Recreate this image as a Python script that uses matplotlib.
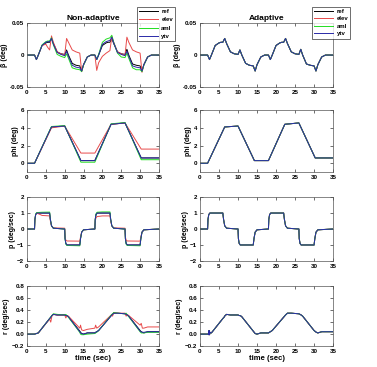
import matplotlib
matplotlib.use("Agg")
import matplotlib.pyplot as plt

# ---- data (time knots in seconds) ----
t_beta = [0, 2, 2.5, 3, 4, 5, 5.5, 6, 6.5, 7, 8, 9, 10, 10.5, 11, 12, 13, 14, 14.5, 15, 16, 17,
          18, 18.5, 19, 20, 21, 21.5, 22, 22.5, 23, 24, 25, 26, 26.5, 27, 28, 29, 30, 30.5, 31, 32, 33, 35]
beta_ref = [0, 0, -0.007, 0.0, 0.015, 0.019, 0.020, 0.020, 0.026, 0.018, 0.005, 0.002, 0.001, 0.008, 0.0,
            -0.013, -0.016, -0.017, -0.025, -0.015, -0.003, 0,
            0, -0.007, 0.0, 0.015, 0.019, 0.020, 0.020, 0.026, 0.018, 0.005, 0.002, 0.001, 0.009, 0.0,
            -0.014, -0.016, -0.017, -0.025, -0.015, -0.003, 0, 0]
beta_elev = [0, 0, -0.007, 0.0, 0.015, 0.017, 0.012, 0.008, 0.030, 0.020, 0.005, 0.002, 0.0, 0.026, 0.020,
             0.008, 0.005, 0.003, -0.026, -0.015, -0.003, 0,
             0, -0.024, -0.012, -0.002, 0.003, 0.005, 0.007, 0.029, 0.020, 0.005, 0.002, 0.0, 0.028, 0.020,
             0.008, 0.005, 0.003, -0.027, -0.015, -0.003, 0, 0]
beta_aml = [0, 0, -0.007, 0.0, 0.016, 0.021, 0.022, 0.022, 0.027, 0.016, 0.001, -0.002, -0.004, 0.002, -0.005,
            -0.020, -0.022, -0.023, -0.026, -0.016, -0.003, 0,
            0, -0.007, 0.001, 0.020, 0.025, 0.026, 0.027, 0.031, 0.020, 0.003, -0.003, -0.004, 0.003, -0.005,
            -0.020, -0.023, -0.023, -0.026, -0.016, -0.003, 0, 0]
beta_ytv = [0, 0, -0.007, 0.0, 0.015, 0.020, 0.021, 0.021, 0.026, 0.017, 0.004, 0.001, -0.001, 0.006, -0.002,
            -0.016, -0.019, -0.020, -0.025, -0.015, -0.003, 0,
            0, -0.007, 0.0, 0.017, 0.021, 0.022, 0.023, 0.028, 0.019, 0.004, 0.001, -0.001, 0.006, -0.002,
            -0.017, -0.019, -0.020, -0.025, -0.015, -0.003, 0, 0]

t_phi = [0, 2, 6.5, 10, 14.3, 18, 22.3, 26, 30.3, 35]
phi_ref = [0, 0, 4.1, 4.2, 0.3, 0.3, 4.4, 4.55, 0.6, 0.6]
phi_elev = [0, 0, 4.0, 4.2, 1.15, 1.15, 4.4, 4.55, 1.6, 1.6]
phi_aml = [0, 0, 4.15, 4.25, 0.12, 0.12, 4.45, 4.6, 0.4, 0.4]
phi_ytv = [0, 0, 4.1, 4.2, 0.3, 0.3, 4.4, 4.55, 0.6, 0.6]

t_p = [0, 2.0, 2.1, 2.3, 2.6, 4.0, 6.0, 6.2, 6.5, 7.0, 10.0, 10.1, 10.3, 10.6, 14.0, 14.2, 14.5, 15.0,
       18.0, 18.1, 18.3, 18.6, 20.0, 22.0, 22.2, 22.5, 23.0, 26.0, 26.1, 26.3, 26.6, 30.0, 30.2, 30.5, 31.0, 35]
p_ref = [0, 0, 0.6, 0.9, 1.0, 1.0, 1.0, 0.6, 0.2, 0.05, 0.0, -0.6, -0.9, -1.0, -1.0, -0.6, -0.2, -0.05,
         0, 0.6, 0.9, 1.0, 1.0, 1.0, 0.6, 0.2, 0.05, 0.0, -0.6, -0.9, -1.0, -1.0, -0.6, -0.2, -0.05, 0]
p_elev = [0, 0, 0.6, 0.9, 1.0, 0.85, 0.82, 0.5, 0.2, 0.07, 0.05, -0.5, -0.7, -0.75, -0.76, -0.5, -0.2, -0.05,
          0, 0.5, 0.7, 0.78, 0.82, 0.82, 0.5, 0.2, 0.07, 0.05, -0.5, -0.7, -0.75, -0.76, -0.5, -0.2, -0.05, 0]
p_aml = [0, 0, 0.6, 0.95, 1.03, 1.05, 1.06, 0.6, 0.2, 0.05, 0.0, -0.6, -0.95, -1.03, -1.05, -0.6, -0.2, -0.05,
         0, 0.6, 0.95, 1.05, 1.07, 1.07, 0.6, 0.2, 0.05, 0.0, -0.6, -0.95, -1.03, -1.05, -0.6, -0.2, -0.05, 0]
p_ytv = [0, 0, 0.6, 0.9, 1.0, 1.0, 1.0, 0.6, 0.2, 0.05, 0.0, -0.6, -0.9, -1.0, -1.0, -0.6, -0.2, -0.05,
         0, 0.6, 0.9, 1.0, 1.0, 1.0, 0.6, 0.2, 0.05, 0.0, -0.6, -0.9, -1.0, -1.0, -0.6, -0.2, -0.05, 0]

t_r = [0, 2, 3, 6, 6.3, 6.6, 7, 8, 10, 10.3, 10.6, 11, 14, 14.2, 14.5, 15, 16, 18, 18.2, 18.5, 19,
       22.5, 22.7, 23, 24, 26, 26.3, 26.6, 27, 30, 30.3, 30.6, 31, 32, 35]
r_ref = [0, 0, 0.02, 0.26, 0.28, 0.31, 0.33, 0.32, 0.32, 0.31, 0.31, 0.29, 0.05, 0.03, 0.01, 0.0, 0.02, 0.02,
         0.03, 0.04, 0.06, 0.32, 0.33, 0.35, 0.35, 0.34, 0.33, 0.32, 0.30, 0.06, 0.04, 0.03, 0.02, 0.04, 0.04]
r_elev = [0, 0, 0.02, 0.25, 0.2, 0.3, 0.33, 0.32, 0.32, 0.27, 0.31, 0.3, 0.1, 0.15, 0.07, 0.06, 0.08, 0.1,
          0.15, 0.1, 0.12, 0.33, 0.3, 0.36, 0.35, 0.35, 0.3, 0.33, 0.31, 0.15, 0.18, 0.1, 0.1, 0.12, 0.12]
r_aml = [0, 0, 0.02, 0.26, 0.29, 0.31, 0.34, 0.33, 0.32, 0.33, 0.31, 0.28, 0.03, 0.0, -0.01, -0.01, 0.0, 0.01,
         0.02, 0.03, 0.06, 0.33, 0.34, 0.36, 0.35, 0.34, 0.35, 0.32, 0.29, 0.04, 0.02, 0.02, 0.02, 0.03, 0.03]
r_ytv = [0, 0, 0.02, 0.26, 0.28, 0.31, 0.33, 0.32, 0.32, 0.31, 0.31, 0.29, 0.04, 0.02, 0.01, 0.0, 0.02, 0.02,
         0.03, 0.04, 0.06, 0.32, 0.33, 0.35, 0.35, 0.34, 0.33, 0.32, 0.30, 0.05, 0.04, 0.03, 0.03, 0.04, 0.04]
# adaptive r has a short chatter burst just after t = 2 s
t_r_ad = [0, 2, 2.2, 2.3, 2.35, 2.4, 2.45, 2.5, 2.55, 2.6, 3, 6, 6.3, 6.6, 7, 8, 10, 10.3, 10.6, 11, 14, 14.5,
          15, 16, 18, 18.5, 19, 22.5, 23, 24, 26, 26.3, 26.6, 27, 30, 30.6, 31, 32, 35]
r_ad = [0, 0, 0.0, 0.05, -0.01, 0.06, -0.01, 0.05, 0.0, 0.03, 0.02, 0.26, 0.28, 0.31, 0.33, 0.32, 0.32, 0.31,
        0.31, 0.29, 0.05, 0.01, 0.0, 0.02, 0.02, 0.04, 0.06, 0.32, 0.35, 0.35, 0.34, 0.33, 0.32, 0.30, 0.06,
        0.03, 0.02, 0.04, 0.04]

names = ["ref", "elev", "aml", "ytv"]
colors = ["black", "#e84a4a", "#22dd22", "#2a2aa8"]

plt.rcParams["font.family"] = ["Liberation Sans", "DejaVu Sans"]
plt.rcParams["font.weight"] = "bold"

fig = plt.figure(figsize=(3.77, 3.67), dpi=100)

col_x = [0.0716, 0.5305]
col_w = [0.350, 0.353]
rows = [(0.763, 0.174), (0.531, 0.169), (0.289, 0.174), (0.057, 0.163)]

axes = [[fig.add_axes([col_x[c], rows[r][0], col_w[c], rows[r][1]]) for c in range(2)] for r in range(4)]

# non-adaptive column
panels_left = [
    (t_beta, [beta_ref, beta_elev, beta_aml, beta_ytv]),
    (t_phi, [phi_ref, phi_elev, phi_aml, phi_ytv]),
    (t_p, [p_ref, p_elev, p_aml, p_ytv]),
    (t_r, [r_ref, r_elev, r_aml, r_ytv]),
]
# adaptive column: all traces sit on the reference
panels_right = [
    (t_beta, [beta_ref] * 4),
    (t_phi, [phi_ref] * 4),
    (t_p, [p_ref] * 4),
    (t_r_ad, [r_ad] * 4),
]

ylabels = ["β (deg)", "phi (deg)", "p (deg/sec)", "r (deg/sec)"]
ylims = [(-0.05, 0.05), (-1, 6), (-2, 2), (-0.2, 0.8)]
yticks = [[-0.05, 0, 0.05], [0, 2, 4, 6], [-2, -1, 0, 1, 2], [-0.2, 0, 0.2, 0.4, 0.6, 0.8]]

for r in range(4):
    for c, panels in enumerate([panels_left, panels_right]):
        ax = axes[r][c]
        t, series = panels[r]
        for name, col, y in zip(names, colors, series):
            ax.plot(t, y, color=col, lw=0.7, label=name)
        ax.set_xlim(0, 35)
        ax.set_ylim(*ylims[r])
        ax.set_xticks(range(0, 36, 5))
        ax.set_yticks(yticks[r])
        if r == 0:
            ax.set_yticklabels(["-0.05", "0", "0.05"])
        ax.tick_params(direction="in", length=2, width=0.4, labelsize=4.5, top=True, right=True, pad=2)
        for s in ax.spines.values():
            s.set_linewidth(0.5)
            s.set_color("#555555")
        ax.set_ylabel(ylabels[r], fontsize=5, fontweight="bold", labelpad=1)
        if r == 3:
            ax.set_xlabel("time (sec)", fontsize=5.5, fontweight="bold", labelpad=1)
        if r == 0:
            ax.set_title(["Non-adaptive", "Adaptive"][c], fontsize=6, fontweight="bold", pad=2)
            anchor = (0.83, 1.26) if c == 0 else (0.84, 1.26)
            spacing = 0.55 if c == 0 else 0.4
            leg = ax.legend(loc="upper left", bbox_to_anchor=anchor, fontsize=4.3, frameon=True,
                            fancybox=False, edgecolor="black", handlelength=3.2, borderpad=0.35,
                            labelspacing=spacing, handletextpad=0.6, borderaxespad=0)
            leg.get_frame().set_linewidth(0.5)
            leg.set_zorder(10)
            for txt in leg.get_texts():
                txt.set_fontweight("bold")

fig.savefig("out.png", dpi=100)
